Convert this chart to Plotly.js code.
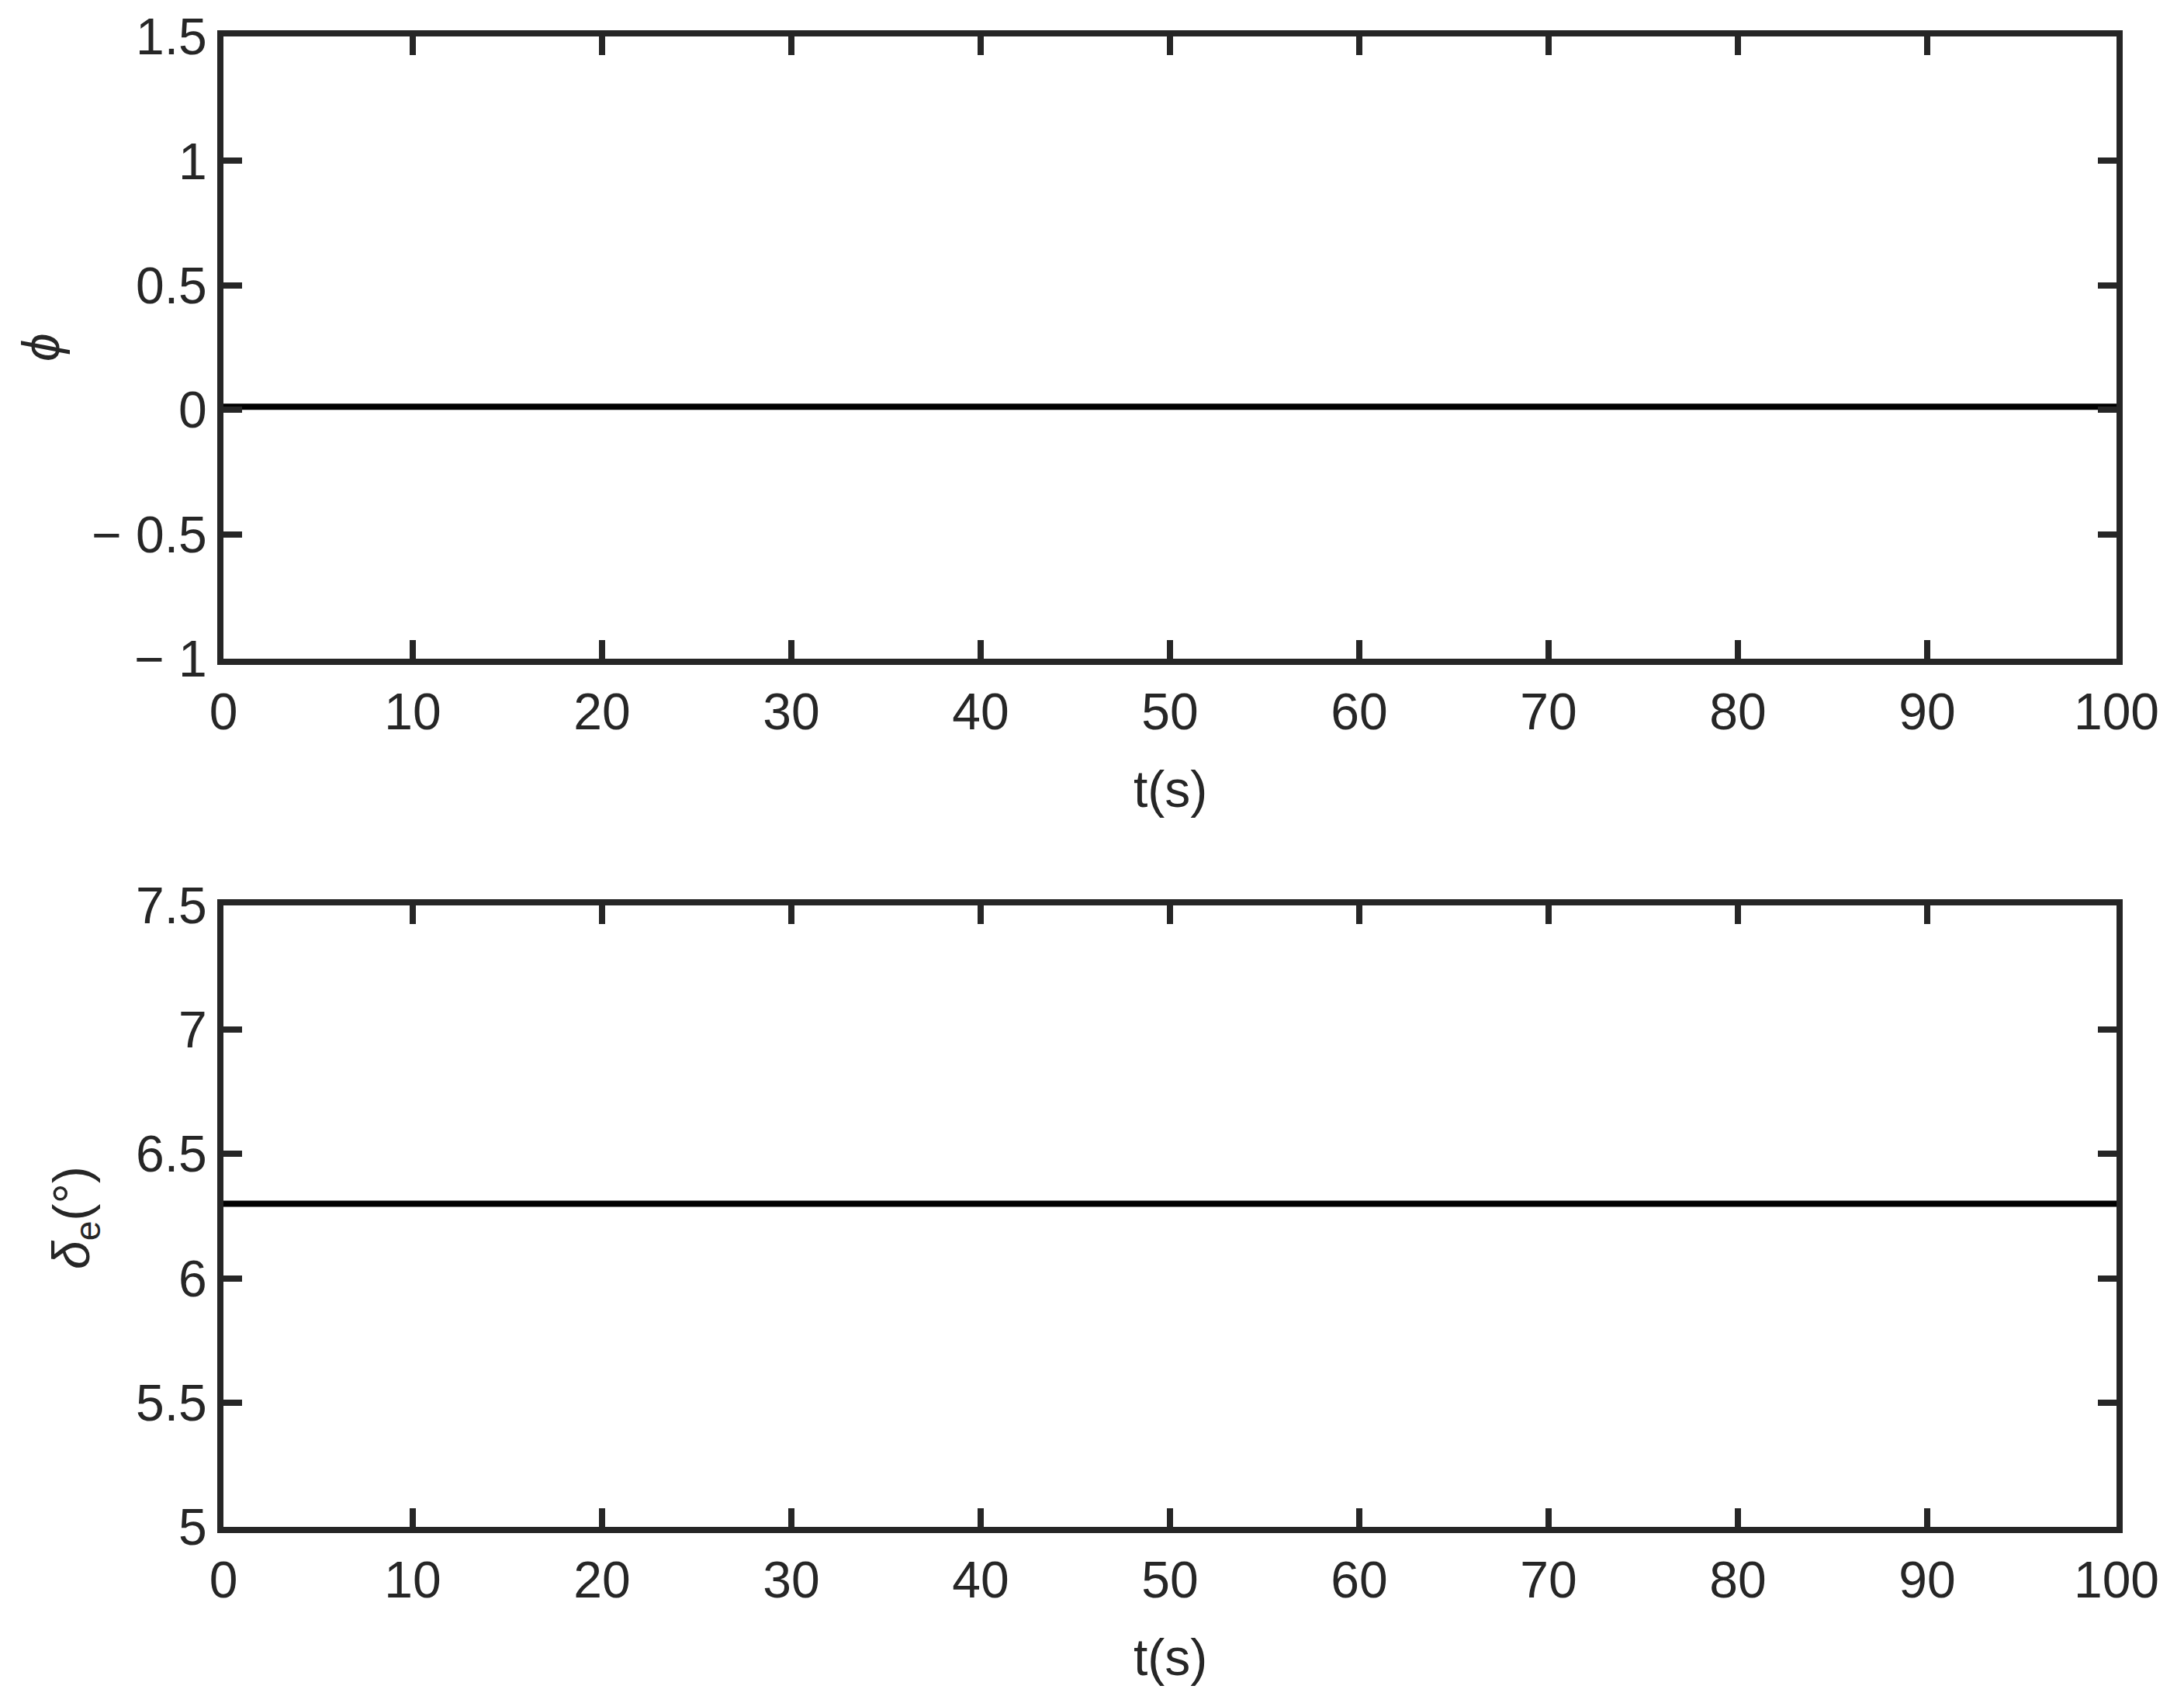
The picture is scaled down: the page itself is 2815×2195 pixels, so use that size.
<!DOCTYPE html>
<html>
<head>
<meta charset="utf-8">
<script src="https://cdn.plot.ly/plotly-3.0.1.min.js"></script>
<style>
  html, body { margin: 0; padding: 0; background: #fff; }
  #graph { width: 2815px; height: 2195px; }
</style>
</head>
<body>
<div id="graph"></div>
<script>
// time samples (s) and the two constant responses
var t = [0, 100];
var phi = [0.012, 0.012];
var delta_e = [6.3, 6.3];

// tick values and labels
var xTicks = [0, 10, 20, 30, 40, 50, 60, 70, 80, 90, 100];
var phiTicks = [-1, -0.5, 0, 0.5, 1, 1.5];
var phiTickText = ['\u2212 1', '\u2212 0.5', '0', '0.5', '1', '1.5'];
var deTicks = [5, 5.5, 6, 6.5, 7, 7.5];
var deTickText = ['5', '5.5', '6', '6.5', '7', '7.5'];

var axCol = '#262626';
var fnt = {family: 'Liberation Sans, Arial, sans-serif', size: 66, color: axCol};

function xax(anchor) {
	return {
		anchor: anchor,
		range: [0, 100],
		tickvals: xTicks,
		ticks: 'inside',
		ticklen: 24,
		tickwidth: 8,
		tickcolor: axCol,
		ticklabelstandoff: 4,
		showline: true,
		linewidth: 8,
		linecolor: axCol,
		mirror: 'ticks',
		showgrid: false,
		zeroline: false,
		tickfont: fnt
	}
}

function yax(anchor, dom, rng, vals, txt) {
	return {
		anchor: anchor,
		domain: dom,
		range: rng,
		tickvals: vals,
		ticktext: txt,
		ticks: 'inside',
		ticklen: 24,
		tickwidth: 8,
		tickcolor: axCol,
		showline: true,
		linewidth: 8,
		linecolor: axCol,
		mirror: 'ticks',
		showgrid: false,
		zeroline: false,
		tickfont: fnt
	}
}

var traces = [
	{
		x: t,
		y: phi,
		xaxis: 'x',
		yaxis: 'y',
		mode: 'lines',
		hoverinfo: 'none',
		line: {color: '#000000', width: 8}
	},
	{
		x: t,
		y: delta_e,
		xaxis: 'x2',
		yaxis: 'y2',
		mode: 'lines',
		hoverinfo: 'none',
		line: {color: '#000000', width: 8}
	}
];

// axis titles placed by hand, like the matlab figure
var titles = [
	{text: 't(s)', x: 0.5, y: 0.495, angle: 0},
	{text: 't(s)', x: 0.5, y: -0.0875, angle: 0},
	{text: '<i>\u03d5</i>', x: -0.0963, y: 0.7913, angle: -90},
	{text: '<i>\u03b4</i><sub>e</sub>(\u00b0)', x: -0.0783, y: 0.2077, angle: -90}
];
var annotations = titles.map(function(a) {
	return {
		text: a.text,
		x: a.x,
		y: a.y,
		xref: 'paper',
		yref: 'paper',
		xanchor: 'center',
		yanchor: 'middle',
		textangle: a.angle,
		showarrow: false,
		font: fnt
	}
});

var layout = {
	width: 2815,
	height: 2195,
	margin: {l: 288, r: 87, t: 47, b: 227},
	paper_bgcolor: '#ffffff',
	plot_bgcolor: '#ffffff',
	showlegend: false,
	font: fnt,
	xaxis: xax('y'),
	yaxis: yax('x', [0.5825, 1], [-1, 1.5], phiTicks, phiTickText),
	xaxis2: xax('y2'),
	yaxis2: yax('x2', [0, 0.417], [5, 7.5], deTicks, deTickText),
	annotations: annotations
};

Plotly.newPlot('graph', traces, layout, {staticPlot: true});
</script>
</body>
</html>
